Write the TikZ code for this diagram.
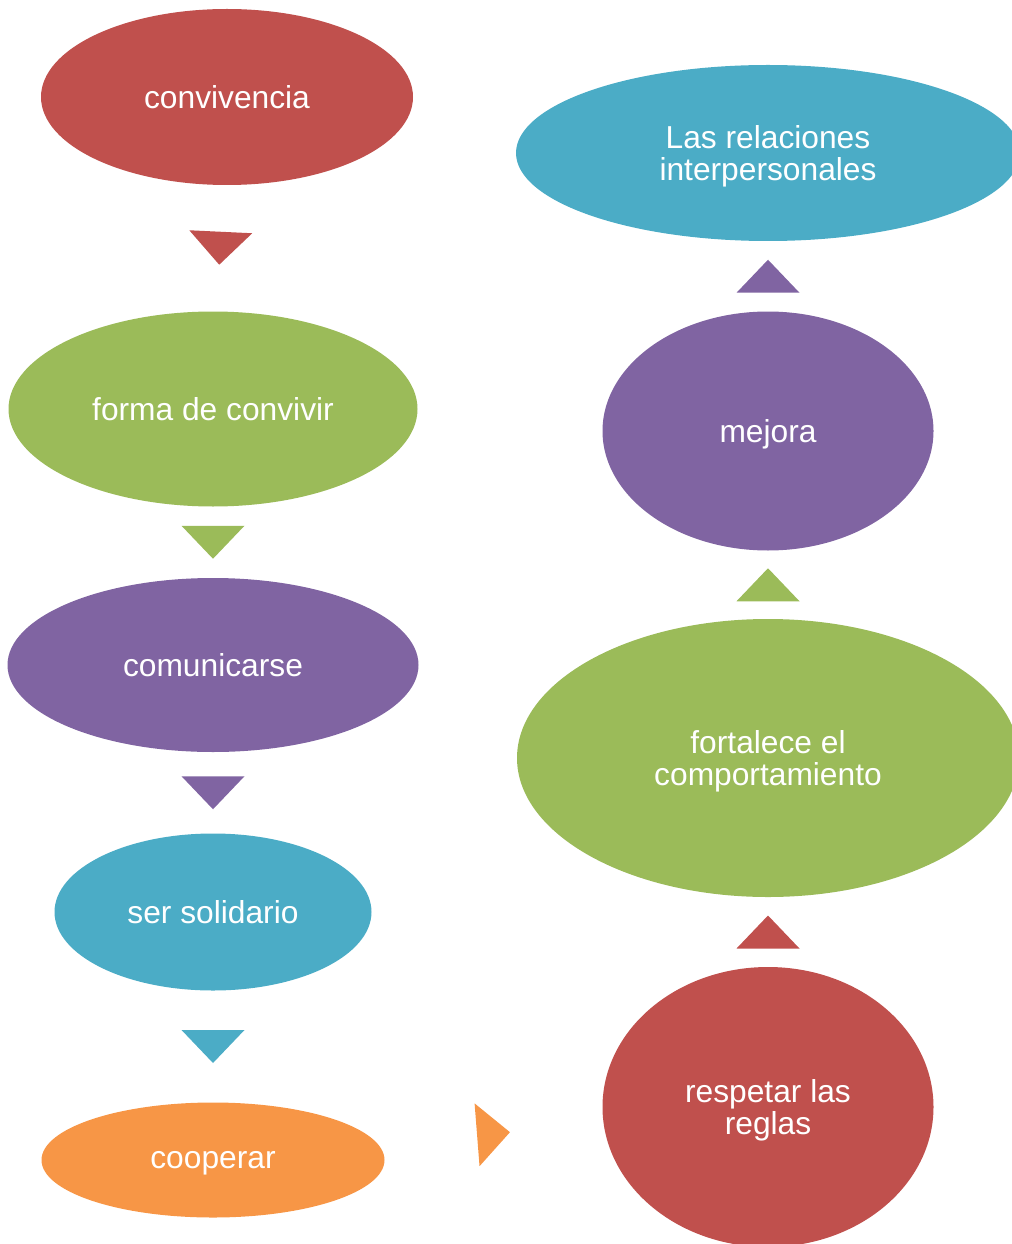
\documentclass[tikz,border=0pt]{standalone}
\usepackage{fontspec}
\setmainfont{Liberation Sans}
\usetikzlibrary{shapes.geometric,calc}
\definecolor{cred}{HTML}{C0504D}
\definecolor{cgreen}{HTML}{9BBB59}
\definecolor{cpurple}{HTML}{8064A2}
\definecolor{cblue}{HTML}{4BACC6}
\definecolor{corange}{HTML}{F79646}
\begin{document}
\begin{tikzpicture}[
  x=0.75pt, y=-0.75pt,
  oval/.style={ellipse, inner sep=0pt, text=white, align=center, text depth=0pt,
    font=\fontsize{23.8}{24.5}\selectfont}
]
  \useasboundingbox (0,0) rectangle (1012,1244);
  \clip (0,0) rectangle (1012,1244);

  % left column, top to bottom
  \node[oval, fill=cred, minimum width=279pt, minimum height=132pt] (conv) at (227,97) {convivencia};
  \node[oval, fill=cgreen, minimum width=306.75pt, minimum height=146.25pt] (forma) at (213,409) {forma de convivir};
  \node[oval, fill=cpurple, minimum width=308.25pt, minimum height=130.5pt] (comun) at (213,665) {comunicarse};
  \node[oval, fill=cblue, minimum width=237.75pt, minimum height=117.75pt] (solid) at (213,912) {ser solidario};
  \node[oval, fill=corange, minimum width=257.25pt, minimum height=86.25pt] (coop) at (213,1160) {cooperar};

  % right column, bottom to top
  \node[oval, fill=cred, minimum width=248.25pt, minimum height=210pt] (reglas) at (768,1107) {respetar las\\reglas};
  \node[oval, fill=cgreen, minimum width=376.5pt, minimum height=208.5pt] (fort) at (768,758) {fortalece el\\comportamiento};
  \node[oval, fill=cpurple, minimum width=248.25pt, minimum height=179.25pt] (mejora) at (768,431) {mejora};
  \node[oval, fill=cblue, minimum width=378pt, minimum height=132pt] (relac) at (768,153) {Las relaciones\\interpersonales};

  % arrow triangles between the ovals
  \coordinate (m1) at ($(conv.south)!0.5!(forma.north)$);
  \coordinate (m2) at ($(forma.south)!0.5!(comun.north)$);
  \coordinate (m3) at ($(comun.south)!0.5!(solid.north)$);
  \coordinate (m4) at ($(solid.south)!0.5!(coop.north)$);
  \coordinate (m5) at ($(coop.east)!0.5!(reglas.west)$);
  \coordinate (m6) at ($(reglas.north)!0.5!(fort.south)$);
  \coordinate (m7) at ($(fort.north)!0.5!(mejora.south)$);
  \coordinate (m8) at ($(mejora.north)!0.5!(relac.south)$);

  \fill[cred, rotate around={-2.7:(m1)}] (m1) ++(-31.5,-16.5) -- ++(63,0) -- ++(-31.5,33) -- cycle;
  \fill[cgreen] (m2) ++(-31.5,-16.5) -- ++(63,0) -- ++(-31.5,33) -- cycle;
  \fill[cpurple] (m3) ++(-31.5,-16.5) -- ++(63,0) -- ++(-31.5,33) -- cycle;
  \fill[cblue] (m4) ++(-31.5,-16.5) -- ++(63,0) -- ++(-31.5,33) -- cycle;
  \fill[corange, rotate around={4.5:(m5)}] (m5) ++(-16.5,-31.5) -- ++(0,63) -- ++(33,-31.5) -- cycle;
  \fill[cred] (m6) ++(-31.5,16.5) -- ++(63,0) -- ++(-31.5,-33) -- cycle;
  \fill[cgreen] (m7) ++(-31.5,16.5) -- ++(63,0) -- ++(-31.5,-33) -- cycle;
  \fill[cpurple] (m8) ++(-31.5,16.5) -- ++(63,0) -- ++(-31.5,-33) -- cycle;
\end{tikzpicture}
\end{document}
